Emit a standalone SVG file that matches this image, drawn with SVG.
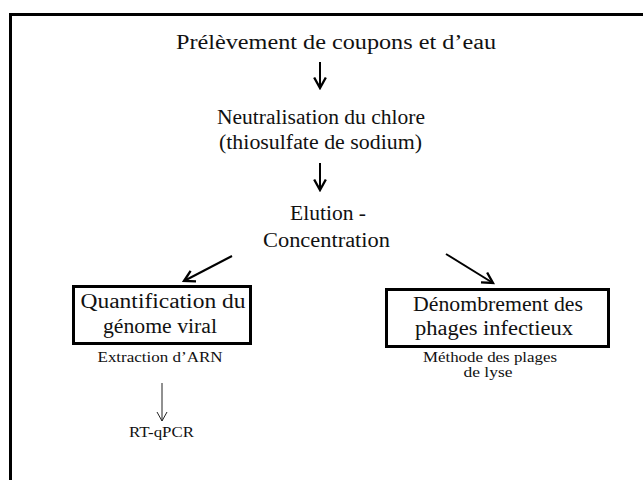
<svg xmlns="http://www.w3.org/2000/svg" width="643" height="480" viewBox="0 0 643 480">
<defs>
<style>
text{font-family:"Liberation Serif","DejaVu Serif",serif;fill:#111;text-anchor:middle}
.big{font-size:20px}
.sm{font-size:15px}
.box{fill:none;stroke:#000;stroke-width:3}
.conn{stroke:#000;fill:none;stroke-width:2}
.thin{stroke:#222;fill:none;stroke-width:1}
</style>
<marker id="ah" markerUnits="userSpaceOnUse" markerWidth="14" markerHeight="14" refX="10" refY="6" orient="auto" viewBox="0 0 12 12">
<path d="M1,1 L10,6 L1,11" fill="none" stroke="#000" stroke-width="2"/>
</marker>
<marker id="ahs" markerUnits="userSpaceOnUse" markerWidth="12" markerHeight="12" refX="10" refY="6" orient="auto" viewBox="0 0 12 12">
<path d="M1,1 L10,6 L1,11" fill="none" stroke="#222" stroke-width="1"/>
</marker>
</defs>
<rect x="0" y="0" width="643" height="480" fill="#fff"/>
<rect id="frame" x="10.5" y="14.5" width="700" height="500" fill="none" stroke="#000" stroke-width="3"/>

<g id="connectors">
<line class="conn" x1="320" y1="62" x2="320" y2="88" marker-end="url(#ah)"/>
<line class="conn" x1="320" y1="163" x2="320" y2="190" marker-end="url(#ah)"/>
<line class="conn" x1="232" y1="256" x2="184" y2="281" marker-end="url(#ah)"/>
<line class="conn" x1="446" y1="254" x2="493" y2="283" marker-end="url(#ah)"/>
<line class="thin" x1="162" y1="383" x2="162" y2="421" marker-end="url(#ahs)"/>
</g>

<g id="n1"><text class="big" x="336" y="49" textLength="320" lengthAdjust="spacingAndGlyphs">Prélèvement de coupons et d’eau</text></g>
<g id="n2"><text class="big" x="321" y="124" textLength="208" lengthAdjust="spacingAndGlyphs">Neutralisation du chlore</text><text class="big" x="320.5" y="149" textLength="203" lengthAdjust="spacingAndGlyphs">(thiosulfate de sodium)</text></g>
<g id="n3"><text class="big" x="328" y="220" textLength="76" lengthAdjust="spacingAndGlyphs">Elution -</text><text class="big" x="326.5" y="247" textLength="127" lengthAdjust="spacingAndGlyphs">Concentration</text></g>
<g id="n4"><rect class="box" x="73.5" y="286.5" width="177" height="57"/><text class="big" x="163" y="308" textLength="165" lengthAdjust="spacingAndGlyphs">Quantification du</text><text class="big" x="160" y="333" textLength="114" lengthAdjust="spacingAndGlyphs">génome viral</text></g>
<g id="n5"><rect class="box" x="386.5" y="289.5" width="222" height="57"/><text class="big" x="498" y="311" textLength="170" lengthAdjust="spacingAndGlyphs">Dénombrement des</text><text class="big" x="494" y="335" textLength="158" lengthAdjust="spacingAndGlyphs">phages infectieux</text></g>
<g id="n6"><text class="sm" x="160" y="362" textLength="125" lengthAdjust="spacingAndGlyphs">Extraction d’ARN</text></g>
<g id="n7"><text class="sm" x="490" y="362" textLength="134" lengthAdjust="spacingAndGlyphs">Méthode des plages</text><text class="sm" x="488" y="377" textLength="49" lengthAdjust="spacingAndGlyphs">de lyse</text></g>
<g id="n8"><text class="sm" x="161.5" y="437" textLength="65" lengthAdjust="spacingAndGlyphs">RT-qPCR</text></g>
</svg>
